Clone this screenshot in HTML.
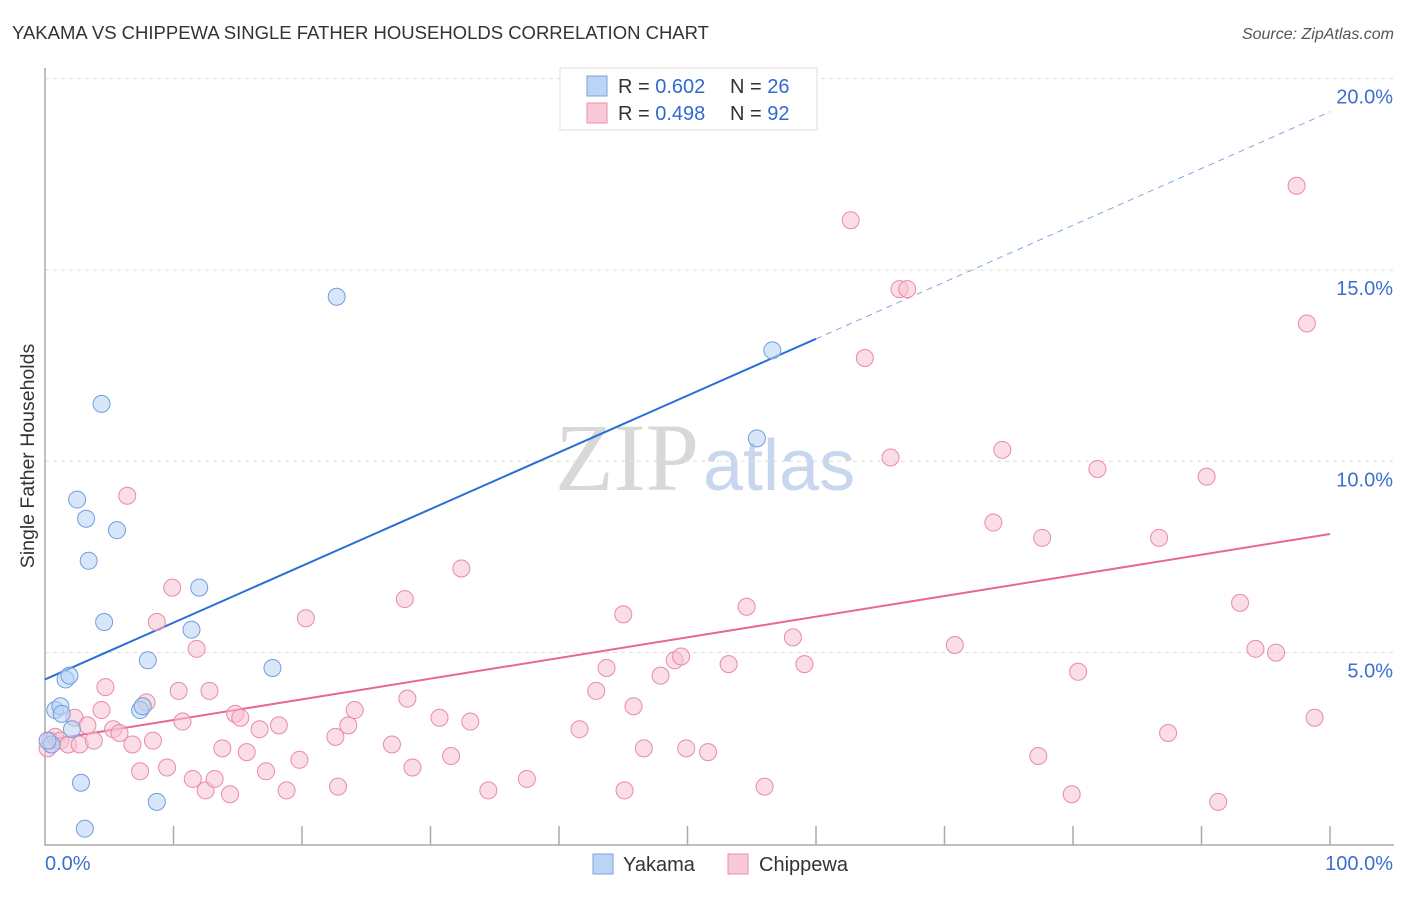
<!DOCTYPE html>
<html><head><meta charset="utf-8"><style>
body{margin:0;background:#fff;font-family:"Liberation Sans",sans-serif;}
</style></head><body>
<svg id="chart" width="1406" height="892" xmlns="http://www.w3.org/2000/svg" font-family="Liberation Sans, sans-serif">
<text x="12" y="39" font-size="18.5" fill="#333">YAKAMA VS CHIPPEWA SINGLE FATHER HOUSEHOLDS CORRELATION CHART</text>
<text x="1394" y="39" font-size="16" fill="#555" text-anchor="end" font-style="italic">Source: ZipAtlas.com</text>
<text x="555" y="490" font-size="96" fill="#ddd"><tspan font-family="Liberation Serif, serif" fill="#d8d8d8">ZIP</tspan><tspan font-size="72" fill="#c8d6ee" dx="4">atlas</tspan></text>
<g id="grid"></g>
<g id="axes"></g>
<text transform="translate(34,456) rotate(-90)" font-size="19.5" fill="#333" text-anchor="middle">Single Father Households</text>
<g id="lines"></g>
<g id="points"></g>
<g>
<rect x="560" y="68" width="257" height="62" fill="#fff" stroke="#ddd"/>
<rect x="587" y="76" width="20" height="20" fill="#bcd4f6" stroke="#7aa3e0"/>
<text x="618" y="93" font-size="20" fill="#333">R = <tspan fill="#2f6bd0">0.602</tspan></text>
<text x="730" y="93" font-size="20" fill="#333">N = <tspan fill="#2f6bd0">26</tspan></text>
<rect x="587" y="103" width="20" height="20" fill="#f9c9d7" stroke="#eb90ab"/>
<text x="618" y="120" font-size="20" fill="#333">R = <tspan fill="#2f6bd0">0.498</tspan></text>
<text x="730" y="120" font-size="20" fill="#333">N = <tspan fill="#2f6bd0">92</tspan></text>
</g>
<g>
<rect x="593" y="854" width="20" height="20" fill="#bcd4f6" stroke="#7aa3e0"/>
<text x="623" y="871" font-size="20" fill="#333">Yakama</text>
<rect x="728" y="854" width="20" height="20" fill="#f9c9d7" stroke="#eb90ab"/>
<text x="759" y="871" font-size="20" fill="#333">Chippewa</text>
</g>
</svg>
<script>
const yTicks=[5,10,15,20];
const yTickLabels=["5.0%","10.0%","15.0%","20.0%"];
const xTickLabels=["0.0%","100.0%"];
const yakamaX=[0.5,0.8,1.2,1.3,1.6,1.9,2.1,2.5,3.2,3.4,4.4,4.6,5.6,2.8,3.1,7.4,7.6,8.0,8.7,11.4,12.0,17.7,22.7,55.4,56.6,0.2];
const yakamaY=[2.6,3.5,3.6,3.4,4.3,4.4,3.0,9.0,8.5,7.4,11.5,5.8,8.2,1.6,0.4,3.5,3.6,4.8,1.1,5.6,6.7,4.6,14.3,10.6,12.9,2.7];
const chipX=[0.2,0.4,0.8,1.2,1.8,2.3,2.7,3.3,3.8,4.4,4.7,5.3,5.8,6.4,6.8,7.4,7.9,8.4,8.7,9.5,9.9,10.4,10.7,11.5,11.8,12.5,12.8,13.2,13.8,14.4,14.8,15.2,15.7,16.7,17.2,18.2,18.8,19.8,20.3,22.6,22.8,23.6,24.1,27.0,28.0,28.2,28.6,30.7,31.6,32.4,33.1,34.5,37.5,41.6,42.9,43.7,45.0,45.1,45.8,46.6,47.9,49.0,49.5,49.9,51.6,53.2,54.6,56.0,58.2,59.1,62.7,63.8,65.8,66.5,67.1,70.8,73.8,74.5,77.3,77.6,79.9,80.4,81.9,86.7,87.4,90.4,91.3,93.0,94.2,95.8,97.4,98.2,98.8];
const chipY=[2.5,2.7,2.8,2.7,2.6,3.3,2.6,3.1,2.7,3.5,4.1,3.0,2.9,9.1,2.6,1.9,3.7,2.7,5.8,2.0,6.7,4.0,3.2,1.7,5.1,1.4,4.0,1.7,2.5,1.3,3.4,3.3,2.4,3.0,1.9,3.1,1.4,2.2,5.9,2.8,1.5,3.1,3.5,2.6,6.4,3.8,2.0,3.3,2.3,7.2,3.2,1.4,1.7,3.0,4.0,4.6,6.0,1.4,3.6,2.5,4.4,4.8,4.9,2.5,2.4,4.7,6.2,1.5,5.4,4.7,16.3,12.7,10.1,14.5,14.5,5.2,8.4,10.3,2.3,8.0,1.3,4.5,9.8,8.0,2.9,9.6,1.1,6.3,5.1,5.0,17.2,13.6,3.3];
const yakamaFit=[4.3,13.2];
const chipFit=[2.7,8.1];
const NS="http://www.w3.org/2000/svg";
const X=v=>45+v*12.85;
const Y=v=>844-v*38.27;
function mk(tag,attrs,parent){const e=document.createElementNS(NS,tag);for(const k in attrs)e.setAttribute(k,attrs[k]);document.getElementById(parent).appendChild(e);return e;}
yTicks.forEach((t,i)=>{
 const g=mk('line',{x1:45,x2:1394,y1:Y(t),y2:Y(t),stroke:'#ddd','stroke-dasharray':'4,4'},'grid');
 
 
 const l=mk('text',{x:1393,y:Y(t)+25,'font-size':20,fill:'#3b6fd0','text-anchor':'end'},'axes');
 l.textContent=yTickLabels[i];
 
 
});
const ax=mk('path',{d:'M45,68 V845 H1394',fill:'none',stroke:'#aaa','stroke-width':1.5},'axes');


for(let i=1;i<=10;i++){
 const t=mk('line',{x1:X(i*10),x2:X(i*10),y1:826,y2:845,stroke:'#aaa','stroke-width':1.5},'axes');
 
 
}
[[0,'start',45],[100,'end',1393]].forEach((d,i)=>{
 const l=mk('text',{x:d[2],y:870,'font-size':20,fill:'#3b6fd0','text-anchor':d[1]},'axes');
 l.textContent=xTickLabels[i];
 
 
});
function drawDots(xs,ys,fill,stroke,name){xs.forEach((x,i)=>{
 const c=mk('circle',{cx:X(x),cy:Y(ys[i]),r:8.5,fill:fill,stroke:stroke,'stroke-width':1,'fill-opacity':0.55},'points');
 
 
});}
drawDots(chipX,chipY,'#f7c1d1','#e98aa8','chippewa-point');
drawDots(yakamaX,yakamaY,'#b8d1f4','#6f9ddf','yakama-point');
const slope=(yakamaFit[1]-yakamaFit[0])/60;
const yl=mk('line',{x1:X(0),y1:Y(yakamaFit[0]),x2:X(60),y2:Y(yakamaFit[1]),stroke:'#2b6fd6','stroke-width':2},'lines');


const yd=mk('line',{x1:X(60),y1:Y(yakamaFit[1]),x2:X(100),y2:Y(yakamaFit[0]+slope*100),stroke:'#7fa6e0','stroke-width':1,'stroke-dasharray':'6,5'},'lines');


const cl=mk('line',{x1:X(0),y1:Y(chipFit[0]),x2:X(100),y2:Y(chipFit[1]),stroke:'#e8679a','stroke-width':2},'lines');


</script>
</body></html>
